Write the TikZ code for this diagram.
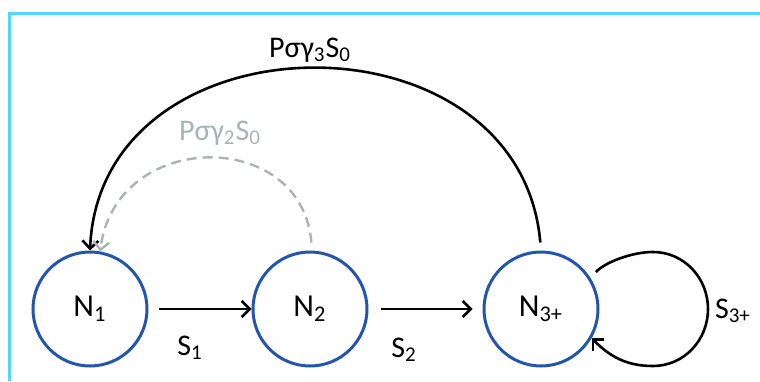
\documentclass[tikz,border=0pt]{standalone}
\usepackage{fontspec}
\setmainfont{Carlito}
\usetikzlibrary{positioning, calc, arrows.meta}

\definecolor{framecyan}{RGB}{80,215,250}
\definecolor{stateblue}{RGB}{35,85,170}
\definecolor{loopgray}{RGB}{175,178,178}
\definecolor{labelgray}{RGB}{168,180,180}

\begin{document}
\begin{tikzpicture}[x=0.5pt, y=0.5pt, >={Straight Barb[length=4pt,width=8pt]},
    state/.style={circle, draw=stateblue, line width=1.5pt, minimum size=57pt,
        inner sep=0pt, font=\fontsize{16}{18}\selectfont},
    flow/.style={->, line width=1.3pt, black},
    back/.style={->, line width=1.2pt, loopgray, dashed, dash pattern=on 5pt off 3pt},
    rate/.style={font=\fontsize{15}{17}\selectfont}]
    \useasboundingbox (0,0) rectangle (760,381);

    % Frame
    \draw[framecyan, line width=1.5pt] (9,0) -- (9,367) -- (760,367);

    % States
    \node[state] (N1) at (90,72) {N\textsubscript{1}};
    \node[state] (N2) at (310,72) {N\textsubscript{2}};
    \node[state] (N3) at (541,72) {N\textsubscript{3+}};

    % Forward transitions
    \draw[flow, shorten <=5pt] (N1.east) -- (N2.west);
    \draw[flow, shorten <=6pt, shorten >=5pt] (N2.east) -- (N3.west);
    \node[rate] (S1) at (190,33) {S\textsubscript{1}};
    \node[rate] (S2) at (404,31) {S\textsubscript{2}};

    % Self loop
    \draw[flow, shorten <=4pt] (N3.32) to[out=48, in=180, looseness=0.8] (653,129)
        to[out=0, in=90] (708,72) to[out=-90, in=0] (653,15) to[out=180, in=-45] (N3.-30);
    \node[rate] (S3) at (733,70) {S\textsubscript{3+}};

    % Return transitions
    \draw[flow, shorten <=4pt] (N3.north) .. controls (520,375) and (100,370) .. (N1.north);
    \node[rate] (R3) at (310,331) {Pσγ\textsubscript{3}S\textsubscript{0}};
    \draw[back, shorten <=4pt] (N2.88) .. controls (302,254) and (115,252) .. (N1.80);
    \node[rate, text=labelgray] (R2) at (220,248) {Pσγ\textsubscript{2}S\textsubscript{0}};
\end{tikzpicture}
\end{document}
